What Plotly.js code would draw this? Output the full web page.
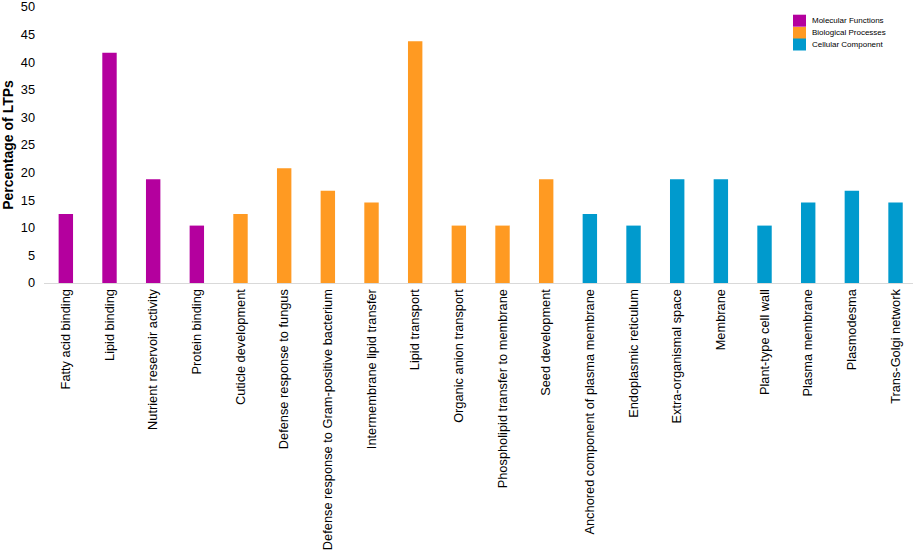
<!DOCTYPE html>
<html>
<head>
<meta charset="utf-8">
<script src="https://cdn.plot.ly/plotly-3.0.1.min.js"></script>
<style>html,body{margin:0;padding:0;background:#fff;}#chart{width:913px;height:551px;}</style>
</head>
<body>
<div id="chart"></div>
<script>
const categories = [
  "Fatty acid binding", "Lipid binding", "Nutrient reservoir activity", "Protein binding",
  "Cuticle development", "Defense response to fungus", "Defense response to Gram-positive bacterium",
  "Intermembrane lipid transfer", "Lipid transport", "Organic anion transport",
  "Phospholipid transfer to membrane", "Seed development",
  "Anchored component of plasma membrane", "Endoplasmic reticulum", "Extra-organismal space",
  "Membrane", "Plant-type cell wall", "Plasma membrane", "Plasmodesma", "Trans-Golgi network"
];
const molecularCats = categories.slice(0, 4);
const molecularVals = [12.5, 41.7, 18.8, 10.4];
const biologicalCats = categories.slice(4, 12);
const biologicalVals = [12.5, 20.8, 16.7, 14.6, 43.8, 10.4, 10.4, 18.8];
const cellularCats = categories.slice(12);
const cellularVals = [12.5, 10.4, 18.8, 18.8, 10.4, 14.6, 16.7, 14.6];
const seriesNames = ["Molecular Functions", "Biological Processes", "Cellular Component"];
const colors = ["#B4009E", "#FF9A22", "#009ACD"];
const yTicks = [0, 5, 10, 15, 20, 25, 30, 35, 40, 45, 50];

const W = 913, H = 551, M = {l: 44, r: 0, t: 7, b: 268};
const pw = W - M.l - M.r, ph = H - M.t - M.b;
const px2x = p => (p - M.l) / pw;
const py2y = p => (H - M.b - p) / ph;

const groups = [[molecularCats, molecularVals], [biologicalCats, biologicalVals], [cellularCats, cellularVals]];
const traces = groups.map((g, i) => ({
  type: 'bar', x: g[0], y: g[1], name: seriesNames[i],
  marker: {color: colors[i]}, width: 0.33, hoverinfo: 'x+y'
}));

// custom compact legend (real text), built from seriesNames/colors
const legRows = [20.7, 33.0, 44.5];
const shapes = seriesNames.map((n, i) => ({
  type: 'rect', xref: 'paper', yref: 'paper',
  x0: px2x(793), x1: px2x(806), y0: py2y(legRows[i] + 6), y1: py2y(legRows[i] - 6),
  fillcolor: colors[i], line: {width: 0}
}));
const annotations = seriesNames.map((n, i) => ({
  xref: 'paper', yref: 'paper', x: px2x(809.5), y: py2y(legRows[i]),
  xanchor: 'left', yanchor: 'middle', text: n, showarrow: false,
  font: {size: 8, color: '#000'}
}));

const layout = {
  width: W, height: H,
  margin: M,
  paper_bgcolor: '#fff', plot_bgcolor: '#fff',
  font: {family: 'Liberation Sans, Arial, sans-serif', size: 12, color: '#000'},
  barmode: 'overlay',
  showlegend: false,
  shapes: shapes,
  annotations: annotations,
  xaxis: {
    type: 'category', categoryorder: 'array', categoryarray: categories,
    range: [-0.5, 19.4], tickangle: -90, showgrid: false, zeroline: false,
    showline: true, linecolor: '#d9d9d9', linewidth: 1, ticks: '', tickfont: {size: 12.8}
  },
  yaxis: {
    range: [0, 50], tickvals: yTicks, showgrid: false, zeroline: false, showline: false,
    ticks: '', tickfont: {size: 12.8}, ticklabelstandoff: 8, ticklabeloverflow: 'allow',
    title: {text: 'Percentage of LTPs', font: {size: 14, weight: 'bold'}, standoff: 5}
  }
};
Plotly.newPlot('chart', traces, layout, {displayModeBar: false, staticPlot: true});
</script>
</body>
</html>
